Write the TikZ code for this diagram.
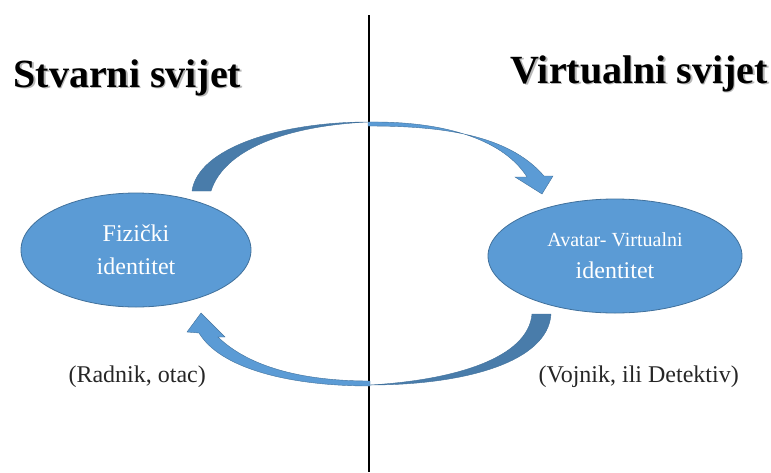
\documentclass[tikz,border=0pt]{standalone}
\usepackage{fontspec}
\setmainfont{Liberation Serif}
\usepackage{tikz}
\usetikzlibrary{positioning,shapes.geometric}
\definecolor{accent}{HTML}{5B9BD5}
\definecolor{accentline}{HTML}{41719C}
\definecolor{accentdark}{HTML}{497CAA}

\begin{document}
\begin{tikzpicture}[
  x=1pt, y=-1pt,
  ident/.style={ellipse, draw=accentline, line width=0.8pt, fill=accent, text=white, align=center, inner sep=0pt, font=\fontsize{24}{33}\selectfont},
  world/.style={anchor=base west, font=\fontsize{40}{48}\selectfont\bfseries},
  role/.style={anchor=base west, text=black!85, font=\fontsize{24}{28}\selectfont},
  front/.style={fill=accent, draw=accentline, line width=0.4pt},
  back/.style={fill=accentdark, draw=accentline, line width=0.4pt},
]
\useasboundingbox (0,0) rectangle (771,472);

% headings with a soft shadow
\node[world, text=black!28] (realsh) at (11.5,88.5) {Stvarni svijet};
\node[world] (real) at (10,87) {Stvarni svijet};
\node[world, text=black!28] (virtsh) at (508.5,84.5) {Virtualni svijet};
\node[world] (virt) at (507,83) {Virtualni svijet};

% divider
\coordinate (divtop) at (369,15);
\coordinate (divbot) at (369,472);
\draw[line width=2pt] (divtop) -- (divbot);

\node[ident, minimum width=230pt, minimum height=114pt] (fiz) at (136,250) {Fizički\\identitet};
\node[ident, minimum width=254pt, minimum height=114pt, font=\fontsize{24}{32}\selectfont] (avt) at (615,256)
  {{\fontsize{20}{24}\selectfont Avatar- Virtualni}\\identitet};

\node[role] (radnik) at (65,382) {(Radnik, otac)};
\node[role] (vojnik) at (535,382) {(Vojnik, ili Detektiv)};

% curved block arrows
\fill[back] (192,191) .. controls (198,148) and (280,122) .. (368,122)
  .. controls (285,126) and (224,150) .. (211,191) -- cycle;
\fill[front] (368,122) .. controls (450,121) and (505,142) .. (527,177)
  -- (515,177) -- (542,194) -- (553,176) -- (544,176)
  .. controls (508,134) and (440,126) .. (368,126) -- cycle;

\fill[back] (532,314) -- (551,314) .. controls (548,362) and (465,385) .. (370,385)
  .. controls (455,380) and (528,358) .. (532,314) -- cycle;
\fill[front] (370,386) .. controls (288,386) and (220,368) .. (199,333)
  -- (187,332) -- (201,313) -- (225,337) -- (218,337)
  .. controls (248,366) and (300,381) .. (370,381) -- cycle;
\end{tikzpicture}
\end{document}
